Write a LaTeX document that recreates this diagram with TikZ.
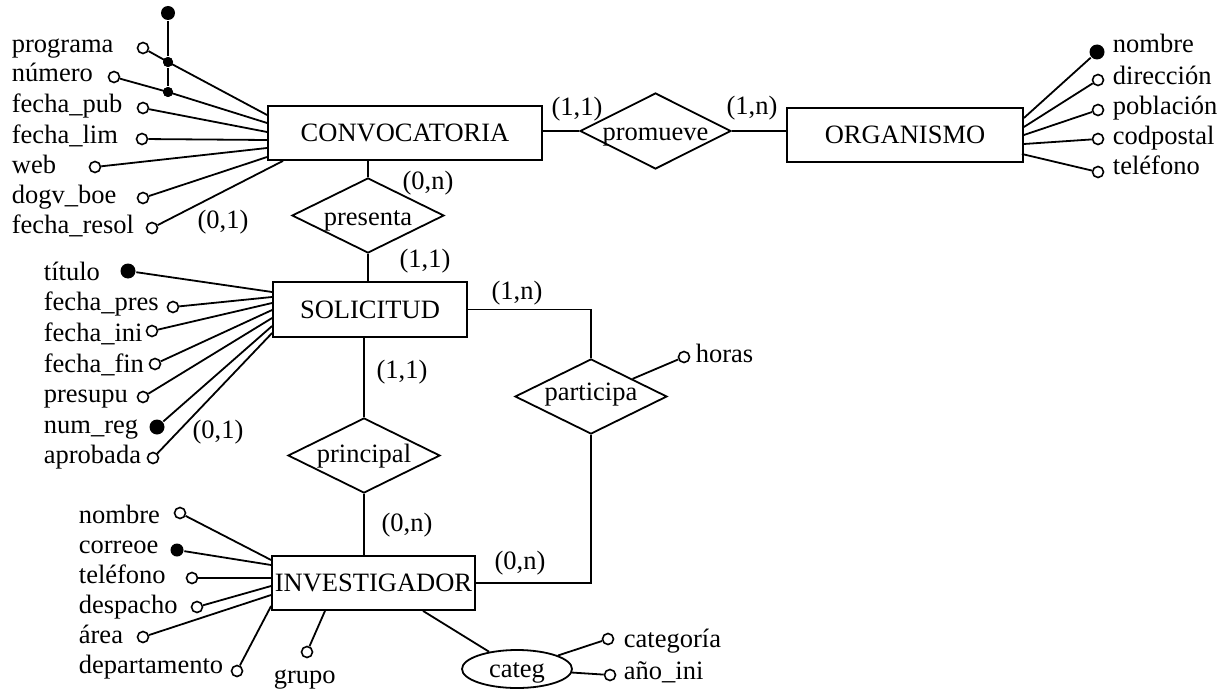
\documentclass[tikz,border=0pt]{standalone}
\usepackage{fontspec}
\setmainfont{Liberation Serif}
\usetikzlibrary{shapes.geometric}
\begin{document}
\begin{tikzpicture}[x=1pt,y=-1pt,
  every node/.style={font=\fontsize{26.5}{30}\selectfont},
  line width=1.8pt,
  ent/.style={draw,rectangle,inner sep=0pt},
  rel/.style={draw,diamond,inner sep=0pt,minimum width=152,minimum height=75},
  oc/.style={circle,draw,fill=white,inner sep=0pt,minimum size=11,line width=1.6pt},
  fc/.style={circle,fill=black,inner sep=0pt,minimum size=15},
  jd/.style={circle,fill=black,inner sep=0pt,minimum size=10},
  lab/.style={anchor=base west,inner sep=0pt},
  card/.style={inner sep=0pt}]
\useasboundingbox (0,0) rectangle (1223,690);

% entities
\node[ent,minimum width=274,minimum height=54] (conv) at (405,133) {CONVOCATORIA};
\node[ent,minimum width=236,minimum height=54] (org) at (905,135) {ORGANISMO};
\node[ent,minimum width=194,minimum height=55] (sol) at (370,309.5) {SOLICITUD};
\node[ent,minimum width=203,minimum height=54] (inv) at (373.5,583) {INVESTIGADOR};

% relationships
\node[rel,minimum width=151,minimum height=76,text height=20,text depth=2] (prom) at (655.5,131) {\makebox[0pt]{promueve}};
\node[rel,text height=21,text depth=2] (pres) at (368,215.5) {\makebox[0pt]{presenta}};
\node[rel,text height=17,text depth=4] (prin) at (364,455.5) {\makebox[0pt]{principal}};
\node[rel,text height=17,text depth=9] (part) at (591,396.5) {\makebox[0pt]{participa}};
\node[draw,ellipse,inner sep=0pt,minimum width=110,minimum height=38,text height=17,text depth=1] (categ) at (517,669) {categ};

% relationship connectors
\draw (conv.east |- prom) -- (prom);
\draw (prom) -- (org.west |- prom);
\draw (pres) -- (pres |- conv.south);
\draw (pres) -- (pres |- sol.north);
\draw (prin) -- (prin |- sol.south);
\draw (prin) -- (prin |- inv.north);
\draw (sol.east) -| (part.north);
\draw (part.south) |- (inv.east);
\draw ([xshift=49.5]inv.south) -- (categ);

% cardinalities
\node[card] (k1) at (577,109) {(1,1)};
\node[card] (k2) at (752,108) {(1,n)};
\node[card] (k3) at (428,183) {(0,n)};
\node[card] (k4) at (425,261) {(1,1)};
\node[card] (k5) at (517,293) {(1,n)};
\node[card] (k6) at (402,372) {(1,1)};
\node[card] (k7) at (407,525) {(0,n)};
\node[card] (k8) at (520,563) {(0,n)};
\node[card] (k9) at (223,222) {(0,1)};
\node[card] (k10) at (218,432) {(0,1)};

% CONVOCATORIA attributes
\node[lab] (l1) at (11,53) {programa};
\node[lab] (l2) at (11,82) {número};
\node[lab] (l3) at (11,113) {fecha\_pub};
\node[lab] (l4) at (11,143) {fecha\_lim};
\node[lab] (l5) at (11,173) {web};
\node[lab] (l6) at (11,203) {dogv\_boe};
\node[lab] (l7) at (11,233) {fecha\_resol};
\node[fc,minimum size=14] (jtop) at (168,13) {};
\node[jd] (j1) at (168,62) {};
\node[jd] (j2) at (168,92) {};
\draw (jtop) -- (j1) -- (j2);
\node[oc] (a1) at (143,48) {};
\node[oc] (a2) at (114,77) {};
\node[oc] (a3) at (143,108) {};
\node[oc] (a4) at (142,139) {};
\node[oc] (a5) at (95,167) {};
\node[oc] (a6) at (143,198) {};
\node[oc] (a7) at (152,228) {};
\draw (a1) -- (j1.center) -- (conv.west |- 0,115);
\draw (a2) -- (j2.center) -- (conv.west |- 0,123);
\draw (a3) -- (conv.west |- 0,132);
\draw (a4) -- (conv.west |- 0,140);
\draw (a5) -- (conv.west |- 0,148);
\draw (a6) -- (conv.west |- 0,157);
\draw (a7) -- (283,0 |- conv.south);
\node[jd] at (j1) {};
\node[jd] at (j2) {};

% ORGANISMO attributes
\node[fc] (o1) at (1097,52) {};
\node[oc] (o2) at (1098,80) {};
\node[oc] (o3) at (1098,110) {};
\node[oc] (o4) at (1098,139) {};
\node[oc] (o5) at (1098,172) {};
\draw (o1) -- (org.east |- 0,118);
\draw (o2) -- (org.east |- 0,127);
\draw (o3) -- (org.east |- 0,135);
\draw (o4) -- (org.east |- 0,144);
\draw (o5) -- ([xshift=-2]org.east |- 0,154);
\node[lab] (ol1) at (1112,53) {nombre};
\node[lab] (ol2) at (1112,85) {dirección};
\node[lab] (ol3) at (1112,115) {población};
\node[lab] (ol4) at (1112,145) {codpostal};
\node[lab] (ol5) at (1112,175) {teléfono};

% SOLICITUD attributes
\node[lab] (s1) at (43,280) {título};
\node[lab] (s2) at (43,310) {fecha\_pres};
\node[lab] (s3) at (43,341) {fecha\_ini};
\node[lab] (s4) at (43,372) {fecha\_fin};
\node[lab] (s5) at (43,402) {presupu};
\node[lab] (s6) at (43,433) {num\_reg};
\node[lab] (s7) at (43,463) {aprobada};
\node[fc] (b1) at (128,271) {};
\node[oc] (b2) at (173,307) {};
\node[oc] (b3) at (152,331) {};
\node[oc] (b4) at (155,364) {};
\node[oc] (b5) at (143,397) {};
\node[fc] (b6) at (157,427) {};
\node[oc] (b7) at (153,458) {};
\draw (b1) -- (sol.west |- 0,292);
\draw (b2) -- (sol.west |- 0,297);
\draw (b3) -- (sol.west |- 0,303);
\draw (b4) -- (sol.west |- 0,310);
\draw (b5) -- (sol.west |- 0,318);
\draw (b6) -- (sol.west |- 0,326);
\draw (b7) -- (sol.west |- 0,333);

% participa attribute
\node[oc] (h1) at (684,357) {};
\draw (part) -- (h1);
\node[lab] (hl) at (695,362) {horas};

% INVESTIGADOR attributes
\node[lab] (i1) at (78,523) {nombre};
\node[lab] (i2) at (78,553) {correoe};
\node[lab] (i3) at (78,583) {teléfono};
\node[lab] (i4) at (78,613) {despacho};
\node[lab] (i5) at (78,643) {área};
\node[lab] (i6) at (78,673) {departamento};
\node[lab] (i7) at (273,683) {grupo};
\node[oc] (c1) at (180,513) {};
\node[fc,minimum size=13] (c2) at (177,550) {};
\node[oc] (c3) at (192,578) {};
\node[oc] (c4) at (197,607) {};
\node[oc] (c5) at (143,637) {};
\node[oc] (c6) at (237,671) {};
\node[oc] (c7) at (307,652) {};
\draw (c1) -- (inv.west |- 0,560);
\draw (c2) -- (inv.west |- 0,565);
\draw (c3) -- (inv.west |- 0,578);
\draw (c4) -- (inv.west |- 0,586);
\draw (c5) -- (inv.west |- 0,595);
\draw (c6) -- (inv.west |- 0,606);
\draw (c7) -- (325,0 |- inv.south);

% categ attributes
\node[oc] (g1) at (608,639) {};
\node[oc] (g2) at (610,675) {};
\draw (categ) -- (g1);
\draw (categ) -- (g2);
\node[lab] (gl1) at (623,647) {categoría};
\node[lab] (gl2) at (623,679) {año\_ini};
\end{tikzpicture}
\end{document}
